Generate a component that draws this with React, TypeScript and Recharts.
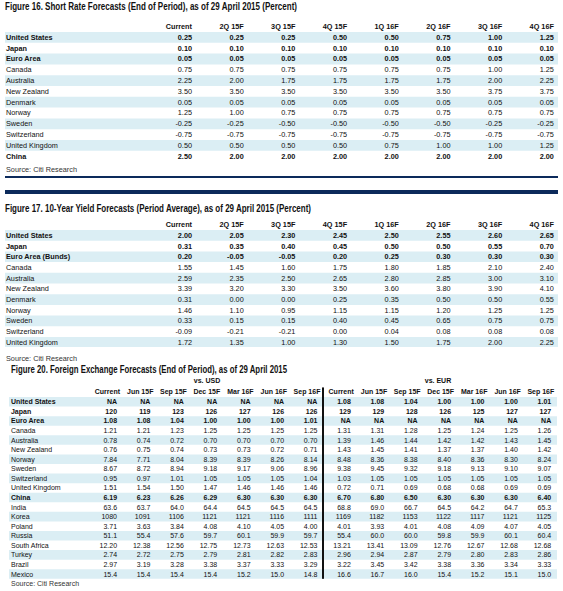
import React from 'react';
import { ScatterChart, Scatter, XAxis, YAxis, ReferenceArea, ReferenceLine } from 'recharts';

// Figure 16 / 17 column headers
const quarterCols = ['Current', '2Q 15F', '3Q 15F', '4Q 15F', '1Q 16F', '2Q 16F', '3Q 16F', '4Q 16F'];

// Figure 16. Short rate forecasts
const shortRateRows = ['United States', 'Japan', 'Euro Area', 'Canada', 'Australia', 'New Zealand', 'Denmark', 'Norway', 'Sweden', 'Switzerland', 'United Kingdom', 'China'];
const shortRateBold = ['United States', 'Japan', 'Euro Area', 'China'];
const shortRateValues = [
  [0.25, 0.25, 0.25, 0.5, 0.5, 0.75, 1.0, 1.25],
  [0.1, 0.1, 0.1, 0.1, 0.1, 0.1, 0.1, 0.1],
  [0.05, 0.05, 0.05, 0.05, 0.05, 0.05, 0.05, 0.05],
  [0.75, 0.75, 0.75, 0.75, 0.75, 0.75, 1.0, 1.25],
  [2.25, 2.0, 1.75, 1.75, 1.75, 1.75, 2.0, 2.25],
  [3.5, 3.5, 3.5, 3.5, 3.5, 3.5, 3.75, 3.75],
  [0.05, 0.05, 0.05, 0.05, 0.05, 0.05, 0.05, 0.05],
  [1.25, 1.0, 0.75, 0.75, 0.75, 0.75, 0.75, 0.75],
  [-0.25, -0.25, -0.5, -0.5, -0.5, -0.5, -0.25, -0.25],
  [-0.75, -0.75, -0.75, -0.75, -0.75, -0.75, -0.75, -0.75],
  [0.5, 0.5, 0.5, 0.5, 0.75, 1.0, 1.0, 1.25],
  [2.5, 2.0, 2.0, 2.0, 2.0, 2.0, 2.0, 2.0],
];

// Figure 17. 10-year yield forecasts
const yieldRows = ['United States', 'Japan', 'Euro Area (Bunds)', 'Canada', 'Australia', 'New Zealand', 'Denmark', 'Norway', 'Sweden', 'Switzerland', 'United Kingdom'];
const yieldBold = ['United States', 'Japan', 'Euro Area (Bunds)'];
const yieldValues = [
  [2.0, 2.05, 2.3, 2.45, 2.5, 2.55, 2.6, 2.65],
  [0.31, 0.35, 0.4, 0.45, 0.5, 0.5, 0.55, 0.7],
  [0.2, -0.05, -0.05, 0.2, 0.25, 0.3, 0.3, 0.3],
  [1.55, 1.45, 1.6, 1.75, 1.8, 1.85, 2.1, 2.4],
  [2.59, 2.35, 2.5, 2.65, 2.8, 2.85, 3.0, 3.1],
  [3.39, 3.2, 3.3, 3.5, 3.6, 3.8, 3.9, 4.1],
  [0.31, 0.0, 0.0, 0.25, 0.35, 0.5, 0.5, 0.55],
  [1.46, 1.1, 0.95, 1.15, 1.15, 1.2, 1.25, 1.25],
  [0.33, 0.15, 0.15, 0.4, 0.45, 0.65, 0.75, 0.75],
  [-0.09, -0.21, -0.21, 0.0, 0.04, 0.08, 0.08, 0.08],
  [1.72, 1.35, 1.0, 1.3, 1.5, 1.75, 2.0, 2.25],
];

// Figure 20. FX forecasts
const fxCols = ['Current', 'Jun 15F', 'Sep 15F', 'Dec 15F', 'Mar 16F', 'Jun 16F', 'Sep 16F'];
const fxRows = ['United States', 'Japan', 'Euro Area', 'Canada', 'Australia', 'New Zealand', 'Norway', 'Sweden', 'Switzerland', 'United Kingdom', 'China', 'India', 'Korea', 'Poland', 'Russia', 'South Africa', 'Turkey', 'Brazil', 'Mexico'];
const fxBold = ['United States', 'Japan', 'Euro Area', 'China'];
const fxDecimals = [2, 0, 2, 2, 2, 2, 2, 2, 2, 2, 2, 1, 0, 2, 1, 2, 2, 2, 1];
const NA = null;
const fxVsUsd = [
  [NA, NA, NA, NA, NA, NA, NA],
  [120, 119, 123, 126, 127, 126, 126],
  [1.08, 1.08, 1.04, 1.0, 1.0, 1.0, 1.01],
  [1.21, 1.21, 1.23, 1.25, 1.25, 1.25, 1.25],
  [0.78, 0.74, 0.72, 0.7, 0.7, 0.7, 0.7],
  [0.76, 0.75, 0.74, 0.73, 0.73, 0.72, 0.71],
  [7.84, 7.71, 8.04, 8.39, 8.39, 8.26, 8.14],
  [8.67, 8.72, 8.94, 9.18, 9.17, 9.06, 8.96],
  [0.95, 0.97, 1.01, 1.05, 1.05, 1.05, 1.04],
  [1.51, 1.54, 1.5, 1.47, 1.46, 1.46, 1.46],
  [6.19, 6.23, 6.26, 6.29, 6.3, 6.3, 6.3],
  [63.6, 63.7, 64.0, 64.4, 64.5, 64.5, 64.5],
  [1080, 1091, 1106, 1121, 1121, 1116, 1111],
  [3.71, 3.63, 3.84, 4.08, 4.1, 4.05, 4.0],
  [51.1, 55.4, 57.6, 59.7, 60.1, 59.9, 59.7],
  [12.2, 12.38, 12.56, 12.75, 12.73, 12.63, 12.53],
  [2.74, 2.72, 2.75, 2.79, 2.81, 2.82, 2.83],
  [2.97, 3.19, 3.28, 3.38, 3.37, 3.33, 3.29],
  [15.4, 15.4, 15.4, 15.4, 15.2, 15.0, 14.8],
];
const fxVsEur = [
  [1.08, 1.08, 1.04, 1.0, 1.0, 1.0, 1.01],
  [129, 129, 128, 126, 125, 127, 127],
  [NA, NA, NA, NA, NA, NA, NA],
  [1.31, 1.31, 1.28, 1.25, 1.24, 1.25, 1.26],
  [1.39, 1.46, 1.44, 1.42, 1.42, 1.43, 1.45],
  [1.43, 1.45, 1.41, 1.37, 1.37, 1.4, 1.42],
  [8.48, 8.36, 8.38, 8.4, 8.36, 8.3, 8.24],
  [9.38, 9.45, 9.32, 9.18, 9.13, 9.1, 9.07],
  [1.03, 1.05, 1.05, 1.05, 1.05, 1.05, 1.05],
  [0.72, 0.71, 0.69, 0.68, 0.68, 0.69, 0.69],
  [6.7, 6.8, 6.5, 6.3, 6.3, 6.3, 6.4],
  [68.8, 69.0, 66.7, 64.5, 64.2, 64.7, 65.3],
  [1169, 1182, 1153, 1122, 1117, 1121, 1125],
  [4.01, 3.93, 4.01, 4.08, 4.09, 4.07, 4.05],
  [55.4, 60.0, 60.0, 59.8, 59.9, 60.1, 60.4],
  [13.21, 13.41, 13.09, 12.76, 12.67, 12.68, 12.68],
  [2.96, 2.94, 2.87, 2.79, 2.8, 2.83, 2.86],
  [3.22, 3.45, 3.42, 3.38, 3.36, 3.34, 3.33],
  [16.6, 16.7, 16.0, 15.4, 15.2, 15.1, 15.0],
];

const SANS = '"Liberation Sans", Arial, sans-serif';
const NAVY = '#0c2a5b';
const STRIPE = '#dbeef4';
const INK = '#111';

type Cell = { col: number; row: number; label: string; bold: boolean };

const toCells = (values: (number | null)[][], rows: string[], bold: string[], decimals: number[], colOffset = 0): Cell[] =>
  values.flatMap((rowVals, r) =>
    rowVals.map((v, c) => ({
      col: c + colOffset,
      row: r,
      label: v === null ? 'NA' : v.toFixed(decimals[r]),
      bold: bold.includes(rows[r]),
    })),
  );

type TableProps = {
  top: number;
  rowH: number;
  headerH: number;
  left: number;
  right: number;
  rows: string[];
  bold: string[];
  headers: string[];
  cells: Cell[];
  domain: [number, number];
  fontSize: number;
  headerDx?: number;
  labelDx?: number;
  children?: React.ReactNode;
};

// one table = one scatter chart: columns on x, rows on y, each value drawn as text at its point
const ForecastTable = ({ top, rowH, headerH, left, right, rows, bold, headers, cells, domain, fontSize, headerDx = 0, labelDx = 1, children }: TableProps) => {
  const height = headerH + rows.length * rowH;
  const colTicks = headers.map((_, i) => i);
  const rowTicks = rows.map((_, i) => i);

  return (
    <div style={{ position: 'absolute', top, left: 0 }}>
      <ScatterChart width={563} height={height} margin={{ top: 0, bottom: 0, left, right: 563 - right }}>
        {rowTicks
          .filter((i) => i % 2 === 0)
          .map((i) => (
            <ReferenceArea key={i} y1={i - 0.5} y2={i + 0.5} fill={STRIPE} fillOpacity={1} stroke="none" ifOverflow="visible" />
          ))}
        <XAxis
          type="number"
          dataKey="col"
          orientation="top"
          domain={domain}
          ticks={colTicks}
          interval={0}
          allowDataOverflow
          height={headerH}
          axisLine={false}
          tickLine={false}
          tickSize={0}
          tickMargin={0}
          tick={(p: any) => (
            <text x={p.x + headerDx} y={p.y - 2.5} textAnchor="end" fontFamily={SANS} fontSize={fontSize} fontWeight="bold" fill={INK}>
              {headers[p.payload.value]}
            </text>
          )}
        />
        <YAxis
          type="number"
          dataKey="row"
          domain={[-0.5, rows.length - 0.5]}
          reversed
          ticks={rowTicks}
          interval={0}
          allowDataOverflow
          mirror
          width={1}
          axisLine={false}
          tickLine={false}
          tickSize={0}
          tickMargin={0}
          tick={(p: any) => {
            const name = rows[p.payload.value];
            return (
              <text x={left + labelDx} y={p.y} textAnchor="start" dominantBaseline="central" fontFamily={SANS} fontSize={fontSize} fontWeight={bold.includes(name) ? 'bold' : 'normal'} fill={INK}>
                {name}
              </text>
            );
          }}
        />
        <Scatter
          data={cells}
          isAnimationActive={false}
          shape={(p: any) => (
            <text x={p.cx} y={p.cy} textAnchor="end" dominantBaseline="central" fontFamily={SANS} fontSize={fontSize} fontWeight={p.payload.bold ? 'bold' : 'normal'} fill={INK}>
              {p.payload.label}
            </text>
          )}
        />
        {children}
      </ScatterChart>
    </div>
  );
};

// narrow figure titles: Arial-metric bold squeezed to the width of the original condensed face
const Title = ({ x, y, w, children }: { x: number; y: number; w: number; children: React.ReactNode }) => (
  <text x={x} y={y} fontFamily={SANS} fontSize={10} fontWeight="bold" fill={INK} textLength={w} lengthAdjust="spacingAndGlyphs">
    {children}
  </text>
);

const Source = ({ x, y, size }: { x: number; y: number; size: number }) => (
  <text x={x} y={y} fontFamily={SANS} fontSize={size} fill="#333">
    Source: Citi Research
  </text>
);

export default function App() {
  const shortCells = toCells(shortRateValues, shortRateRows, shortRateBold, shortRateRows.map(() => 2));
  const yieldCells = toCells(yieldValues, yieldRows, yieldBold, yieldRows.map(() => 2));
  const fxCells = [
    ...toCells(fxVsUsd, fxRows, fxBold, fxDecimals),
    ...toCells(fxVsEur, fxRows, fxBold, fxDecimals, fxCols.length),
  ];

  return (
    <div style={{ position: 'absolute', top: 0, left: 0, width: 563, height: 591, background: '#fff', overflow: 'hidden' }}>
      <svg width={563} height={591} style={{ position: 'absolute', top: 0, left: 0 }}>
        <Title x={5} y={10.3} w={292}>Figure 16. Short Rate Forecasts (End of Period), as of 29 April 2015 (Percent)</Title>
        <Source x={6} y={172} size={7.3} />
        <rect x={5} y={176} width={553} height={2} fill={NAVY} />
        <rect x={5} y={190} width={553} height={4} fill={NAVY} />
        <Title x={5} y={212} w={306}>Figure 17. 10-Year Yield Forecasts (Period Average), as of 29 April 2015 (Percent)</Title>
        <Source x={6} y={360.5} size={7.3} />
        <Title x={11} y={372.5} w={276}>Figure 20. Foreign Exchange Forecasts (End of Period), as of 29 April 2015</Title>
        <text x={207} y={382.5} textAnchor="middle" fontFamily={SANS} fontSize={7} fontWeight="bold" fill={INK}>vs. USD</text>
        <text x={438} y={382.5} textAnchor="middle" fontFamily={SANS} fontSize={7} fontWeight="bold" fill={INK}>vs. EUR</text>
        <Source x={11} y={586} size={7} />
      </svg>

      <ForecastTable
        top={18}
        rowH={10.8}
        headerH={14}
        left={5}
        right={558}
        rows={shortRateRows}
        bold={shortRateBold}
        headers={quarterCols}
        cells={shortCells}
        domain={[-3.617, 7.079]}
        fontSize={7.3}
      />

      <ForecastTable
        top={215.6}
        rowH={10.7}
        headerH={14}
        left={5}
        right={558}
        rows={yieldRows}
        bold={yieldBold}
        headers={quarterCols}
        cells={yieldCells}
        domain={[-3.617, 7.079]}
        fontSize={7.3}
      />

      <ForecastTable
        top={385}
        rowH={9.57}
        headerH={12}
        left={9}
        right={557}
        rows={fxRows}
        bold={fxBold}
        headers={[...fxCols, ...fxCols]}
        cells={fxCells}
        domain={[-3.234, 13.173]}
        fontSize={7}
        headerDx={3}
        labelDx={2}
      >
        <ReferenceLine
          segment={[{ x: 6.167, y: -1.5 }, { x: 6.167, y: 18.5 }]}
          stroke={INK}
          strokeWidth={2}
          ifOverflow="visible"
        />
      </ForecastTable>
    </div>
  );
}
